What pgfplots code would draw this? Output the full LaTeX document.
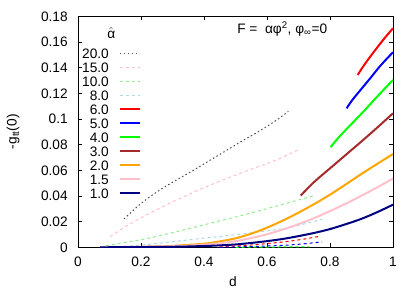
\documentclass[border=0pt]{standalone}
\usepackage{fontspec}
\setmainfont{Liberation Sans}
\usepackage{pgfplots}
\pgfplotsset{compat=1.18}
\definecolor{cpink}{HTML}{FFC0CB}
\definecolor{clgreen}{HTML}{90EE90}
\definecolor{clblue}{HTML}{ADD8E6}
\definecolor{cbrown}{HTML}{A52A2A}
\definecolor{corange}{HTML}{FFA500}
\definecolor{cnavy}{HTML}{000080}
\definecolor{cgray}{HTML}{505050}
\newcommand\fs{\fontsize{13.7bp}{16bp}\selectfont}
\begin{document}
\fs
\begin{tikzpicture}
\begin{axis}[
  scale only axis, width=315bp, height=231bp,
  xmin=0, xmax=1, ymin=0, ymax=0.18,
  xtick={0,0.2,0.4,0.6,0.8,1},
  ytick={0,0.02,0.04,0.06,0.08,0.1,0.12,0.14,0.16,0.18},
  scaled y ticks=false, scaled x ticks=false,
  tick align=inside, major tick length=4bp,
  axis line style={line width=0.8bp},
  tick style={line width=0.6bp, black},
  /pgf/number format/assume math mode=true,
  tick label style={font=\fs},
  xticklabel style={/pgf/number format/fixed, yshift=-5bp},
  yticklabel style={/pgf/number format/fixed, /pgf/number format/precision=2, xshift=-5.5bp},
  xlabel={d}, ylabel={-g\textsubscript{tt}(0)},
  label style={font=\fs},
  xlabel style={at={(axis description cs:0.492,-0.149)}, anchor=center},
  ylabel style={at={(axis description cs:-0.206,0.5)}, anchor=center},
  legend image code/.code={\draw[#1] (0bp,0bp) -- (20bp,0bp);},
  legend cell align=right, legend plot pos=right,
  legend style={draw=none, fill=none, font=\fs, inner xsep=0bp, inner ysep=0bp,
    at={(rel axis cs:0.2,0.93203)}, anchor=north east,
    nodes={inner ysep=2.1bp, inner xsep=0bp, text height=9.8bp, text depth=0bp}, column sep=10bp, row sep=0bp},
]
\addlegendimage{empty legend}
\addlegendentry{\makebox[0pt][l]{\hspace{-1bp}\raisebox{5.35bp}{$\hat{\hbox{α}}$}}}

\addplot[cgray, line width=1bp, dash pattern=on 1.5bp off 2.5bp, smooth] coordinates {
(0.146,0.0221) (0.180,0.0298) (0.207,0.0355) (0.260,0.0447) (0.313,0.0525) (0.366,0.0600) (0.419,0.0678) (0.472,0.0756) (0.525,0.0834) (0.578,0.0909) (0.631,0.0992) (0.668,0.1060)};
\addlegendentry{20.0}

\addplot[cpink, line width=1bp, dash pattern=on 3bp off 3bp, smooth] coordinates {
(0.102,0.0083) (0.150,0.0160) (0.207,0.0239) (0.260,0.0305) (0.313,0.0369) (0.366,0.0428) (0.419,0.0484) (0.472,0.0536) (0.525,0.0586) (0.578,0.0634) (0.631,0.0682) (0.703,0.0764)};
\addlegendentry{15.0}

\addplot[clgreen, line width=1bp, dash pattern=on 3bp off 3bp, smooth] coordinates {
(0.070,0.0002) (0.100,0.0018) (0.150,0.0038) (0.207,0.0062) (0.313,0.0122) (0.419,0.0187) (0.525,0.0252) (0.631,0.0322) (0.737,0.0394) (0.752,0.0405)};
\addlegendentry{10.0}

\addplot[clblue, line width=1bp, dash pattern=on 3bp off 3bp, smooth] coordinates {
(0.070,0.0000) (0.144,0.0006) (0.250,0.0030) (0.387,0.0068) (0.500,0.0098) (0.600,0.0128) (0.652,0.0145) (0.700,0.0170) (0.776,0.0220)};
\addlegendentry{8.0}

\addplot[red, line width=2bp, smooth] coordinates {
(0.888,0.1343) (0.900,0.1390) (0.920,0.1460) (0.943,0.1535) (0.970,0.1620) (1.000,0.1707)};
\addlegendentry{6.0}

\addplot[blue, line width=2bp, smooth] coordinates {
(0.853,0.1083) (0.870,0.1145) (0.900,0.1235) (0.927,0.1315) (0.960,0.1415) (1.000,0.1520)};
\addlegendentry{5.0}

\addplot[green, line width=2bp, smooth] coordinates {
(0.802,0.0780) (0.820,0.0835) (0.850,0.0915) (0.906,0.1057) (0.950,0.1175) (1.000,0.1304)};
\addlegendentry{4.0}

\addplot[cbrown, line width=2bp, smooth] coordinates {
(0.707,0.0403) (0.750,0.0510) (0.800,0.0615) (0.850,0.0720) (0.900,0.0825) (0.950,0.0933) (1.000,0.1044)};
\addlegendentry{3.0}

\addplot[corange, line width=2bp, smooth] coordinates {
(0.070,0.0000) (0.200,0.0003) (0.300,0.0011) (0.400,0.0028) (0.450,0.0046) (0.500,0.0070) (0.550,0.0106) (0.600,0.0153) (0.650,0.0208) (0.700,0.0270) (0.750,0.0337) (0.800,0.0410) (0.850,0.0490) (0.900,0.0572) (0.950,0.0650) (1.000,0.0727)};
\addlegendentry{2.0}

\addplot[cpink, line width=2bp, smooth] coordinates {
(0.070,0.0000) (0.300,0.0008) (0.400,0.0020) (0.450,0.0032) (0.500,0.0048) (0.550,0.0072) (0.600,0.0102) (0.650,0.0138) (0.700,0.0180) (0.750,0.0228) (0.800,0.0282) (0.850,0.0340) (0.900,0.0402) (0.950,0.0467) (1.000,0.0535)};
\addlegendentry{1.5}

\addplot[cnavy, line width=2bp, smooth] coordinates {
(0.070,0.0000) (0.300,0.0004) (0.400,0.0010) (0.450,0.0015) (0.500,0.0022) (0.550,0.0034) (0.600,0.0048) (0.650,0.0065) (0.700,0.0087) (0.750,0.0112) (0.800,0.0142) (0.850,0.0180) (0.900,0.0222) (0.950,0.0274) (1.000,0.0332)};
\addlegendentry{1.0}

\addplot[red, line width=1bp, dash pattern=on 3bp off 3bp, smooth, forget plot] coordinates {
(0.450,0.0003) (0.550,0.0018) (0.652,0.0042) (0.720,0.0065) (0.771,0.0088)};
\addplot[blue, line width=1bp, dash pattern=on 3bp off 3bp, smooth, forget plot] coordinates {
(0.450,0.0000) (0.550,0.0006) (0.652,0.0015) (0.720,0.0028) (0.775,0.0043)};
\addplot[green, line width=1bp, dash pattern=on 3bp off 3bp, forget plot] coordinates {
(0.500,0.0000) (0.735,0.0004)};

\node[anchor=west, inner sep=0pt, font=\fs] at (axis cs:0.505,0.170) {F = \ αφ\textsuperscript{2}, φ\textsubscript{∞}=0};
\coordinate (ll) at (rel axis cs:0,0);
\end{axis}
\pgfresetboundingbox
\path (ll) ++(-78bp,-44.7bp) rectangle ++(417bp,292bp);
\end{tikzpicture}
\end{document}
